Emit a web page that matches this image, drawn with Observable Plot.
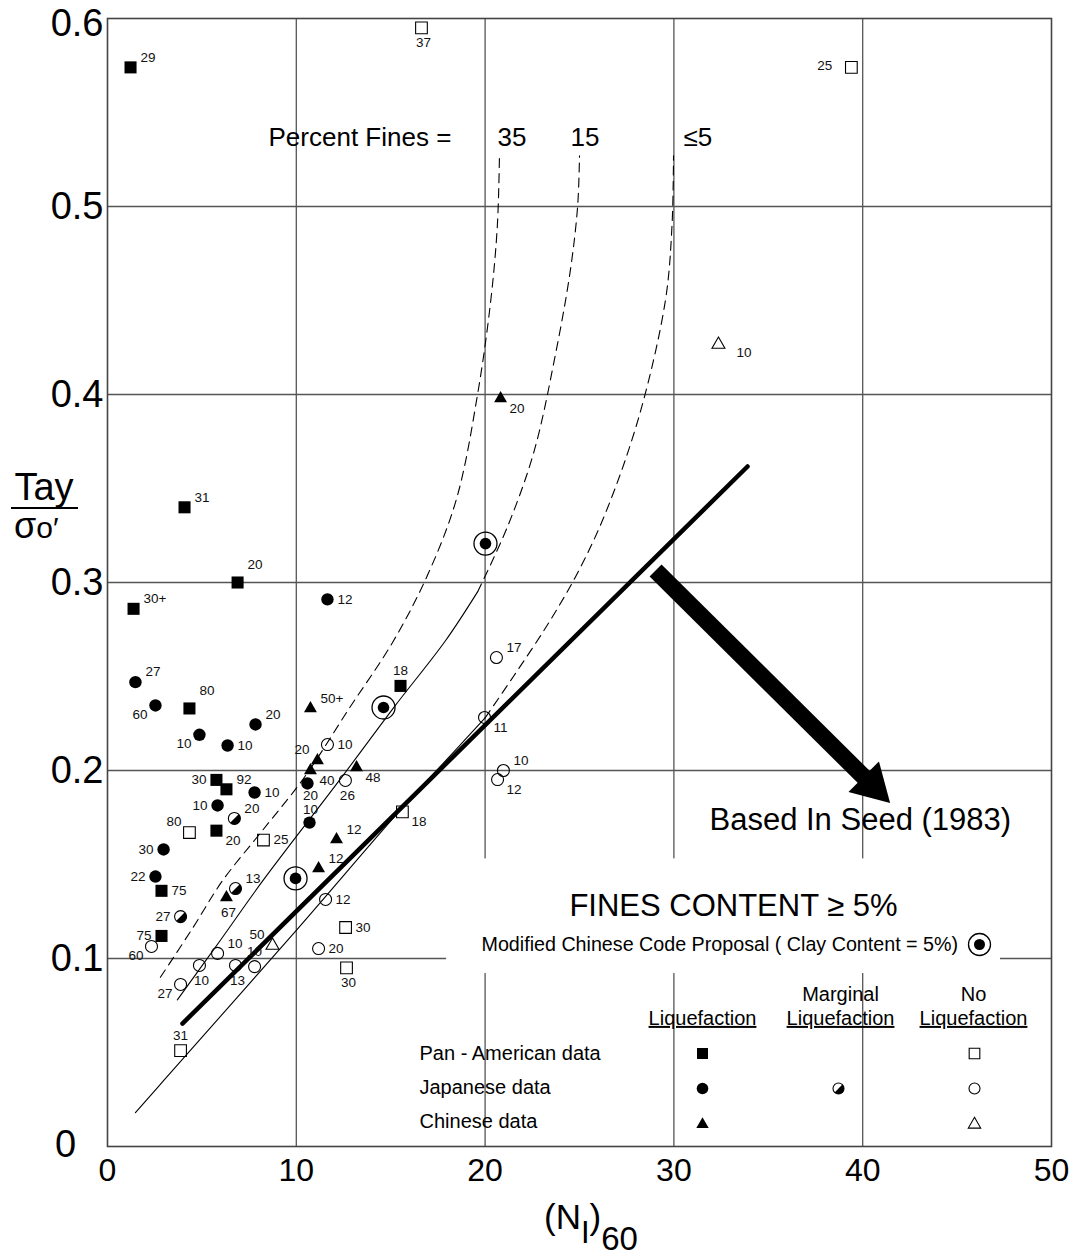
<!DOCTYPE html>
<html><head><meta charset="utf-8">
<script src="https://cdn.jsdelivr.net/npm/d3@7"></script>
<script src="https://cdn.jsdelivr.net/npm/@observablehq/plot@0.6"></script>
<style>body{margin:0;background:#fff}#chart svg{display:block}</style>
</head><body><div id="chart"></div>
<script>
const FONT = '"Liberation Sans", Arial, Helvetica, sans-serif';

// axes
const xTicks = [0, 10, 20, 30, 40, 50];
const yTicks = [0, 0.1, 0.2, 0.3, 0.4, 0.5, 0.6];

// Pan-American data – liquefaction (filled squares)
const panLiqX = [1.22, 4.08, 6.89, 1.38, 4.34, 5.77, 6.30, 5.77, 2.86, 2.86, 15.52];
const panLiqY = [0.574, 0.340, 0.300, 0.286, 0.233, 0.195, 0.190, 0.168, 0.136, 0.112, 0.245];
const panLiqLabel = ["29", "31", "20", "30+", "80", "30", "92", "20", "75", "75", "18"];
const panLiqPlace = ["tr", "tr", "tr2", "tr", "tr2", "l", "tr", "br", "r", "l", "t"];

// Pan-American data – no liquefaction (open squares)
const panNoX = [16.63, 39.4, 4.34, 8.26, 15.62, 12.61, 12.66, 3.87];
const panNoY = [0.595, 0.574, 0.167, 0.163, 0.178, 0.1165, 0.095, 0.051];
const panNoLabel = ["37", "25", "80", "25", "18", "30", "30", "31"];
const panNoPlace = ["b", "l2", "tl", "r", "br", "r", "b", "t"];

// Japanese data – liquefaction (filled circles)
const japLiqX = [1.48, 2.54, 4.87, 6.36, 7.84, 5.83, 7.79, 2.97, 2.54, 11.65, 10.59, 10.70];
const japLiqY = [0.247, 0.2346, 0.219, 0.2133, 0.2245, 0.1814, 0.1883, 0.158, 0.1436, 0.291, 0.1931, 0.1723];
const japLiqLabel = ["27", "60", "10", "10", "20", "10", "10", "30", "22", "12", "20", "10"];
const japLiqPlace = ["tr", "bl", "bl", "r", "tr", "l", "r", "l", "l", "r", "b2", "t2"];

// Japanese data – marginal liquefaction (half-filled circles)
const japMargX = [6.72, 6.78, 3.87];
const japMargY = [0.1745, 0.1372, 0.1223];
const japMargLabel = ["20", "13", "27"];
const japMargPlace = ["tr", "tr", "l"];

// Japanese data – no liquefaction (open circles)
const japNoX = [2.33, 3.87, 4.87, 5.83, 6.78, 7.79, 11.65, 12.6, 11.55, 11.18, 20.6, 19.97, 20.97, 20.66];
const japNoY = [0.1064, 0.0862, 0.0963, 0.1027, 0.0963, 0.0957, 0.2138, 0.1947, 0.1314, 0.1053, 0.2601, 0.2282, 0.200, 0.1952];
const japNoLabel = ["60", "27", "10", "10", "13", "10", "10", "26", "12", "20", "17", "11", "10", "12"];
const japNoPlace = ["bl", "bl", "b", "tr", "b", "t", "r", "b", "r", "r", "tr", "br", "tr", "br"];

// Chinese data – liquefaction (filled triangles)
const chiLiqX = [20.82, 10.75, 11.12, 10.75, 13.19, 12.13, 11.18, 6.30];
const chiLiqY = [0.3979, 0.233, 0.2053, 0.200, 0.2016, 0.1633, 0.1479, 0.1324];
const chiLiqLabel = ["20", "50+", "20", "40", "48", "12", "12", "67"];
const chiLiqPlace = ["br", "tr", "tl", "br", "br", "tr", "tr", "b"];

// Chinese data – no liquefaction (open triangles)
const chiNoX = [32.36, 8.74];
const chiNoY = [0.4266, 0.1069];
const chiNoLabel = ["10", "50"];
const chiNoPlace = ["br2", "tl"];

// Modified Chinese Code Proposal (clay content = 5%)
const modX = [20.02, 14.62, 9.96];
const modY = [0.3207, 0.2335, 0.1426];

// Boundary curves (percent fines)
const c35X = [2.8, 4.5, 6.1, 8.2, 10.4, 12.8, 15.15, 17.0, 18.5, 19.6, 20.3, 20.65, 20.76];
const c35Y = [0.090, 0.116, 0.1415, 0.168, 0.196, 0.233, 0.269, 0.305, 0.345, 0.400, 0.450, 0.490, 0.527];

const c15SolidX = [3.7, 6.0, 8.2, 12.3, 15.2, 17.9, 19.6];
const c15SolidY = [0.078, 0.110, 0.141, 0.195, 0.234, 0.269, 0.295];
const c15DashX = [19.6, 21.2, 22.6, 23.7, 24.5, 24.9, 25.0];
const c15DashY = [0.295, 0.330, 0.370, 0.420, 0.465, 0.500, 0.527];

const c5SolidX = [1.48, 2.97, 10.0, 15.6, 18.54, 20.0];
const c5SolidY = [0.018, 0.035, 0.115, 0.180, 0.212, 0.228];
const c5DashX = [20.0, 21.5, 23.46, 25.05, 26.5, 28.2, 29.55, 29.9, 29.98];
const c5DashY = [0.228, 0.250, 0.280, 0.308, 0.340, 0.390, 0.450, 0.490, 0.527];

// Seed (1983) boundary line
const seedX = [3.97, 33.9];
const seedY = [0.0654, 0.3617];

// arrow pointing to the note
const arrowFromX = 29.03, arrowFromY = 0.3064, arrowToX = 41.42, arrowToY = 0.183;

// texts
const finesTitle = "Percent Fines =";
const finesLabels = ["35", "15", "≤5"];
const seedNote = "Based In Seed (1983)";
const finesContent = "FINES CONTENT ≥ 5%";
const modNote = "Modified Chinese Code Proposal ( Clay Content = 5%)";
const legendRows = ["Pan - American data", "Japanese data", "Chinese data"];
const legendHead1 = ["", "Marginal", "No"];
const legendHead2 = ["Liquefaction", "Liquefaction", "Liquefaction"];

// ---------------------------------------------------------------
const zip = (X, Y) => X.map((x, i) => ({x, y: Y[i]}));
const series = [
  {type: "panLiq", X: panLiqX, Y: panLiqY, L: panLiqLabel, P: panLiqPlace},
  {type: "panNo", X: panNoX, Y: panNoY, L: panNoLabel, P: panNoPlace},
  {type: "japLiq", X: japLiqX, Y: japLiqY, L: japLiqLabel, P: japLiqPlace},
  {type: "japMarg", X: japMargX, Y: japMargY, L: japMargLabel, P: japMargPlace},
  {type: "japNo", X: japNoX, Y: japNoY, L: japNoLabel, P: japNoPlace},
  {type: "chiLiq", X: chiLiqX, Y: chiLiqY, L: chiLiqLabel, P: chiLiqPlace},
  {type: "chiNo", X: chiNoX, Y: chiNoY, L: chiNoLabel, P: chiNoPlace},
  {type: "mod", X: modX, Y: modY, L: modX.map(() => ""), P: modX.map(() => "")}
];
const points = series.flatMap(s => s.X.map((x, i) => ({type: s.type, x, y: s.Y[i], label: s.L[i], place: s.P[i]})));
const sel = t => points.filter(d => d.type === t);

const PLACE = {
  r: {a: "start", dx: 10, dy: 0}, l: {a: "end", dx: -10, dy: 0}, l2: {a: "end", dx: -19, dy: -2},
  t: {a: "middle", dx: 0, dy: -15}, t2: {a: "middle", dx: 1, dy: -13},
  b: {a: "middle", dx: 2, dy: 15}, b2: {a: "middle", dx: 3, dy: 12},
  tr: {a: "start", dx: 10, dy: -10}, tr2: {a: "start", dx: 10, dy: -18},
  br: {a: "start", dx: 9, dy: 10}, br2: {a: "start", dx: 18, dy: 8},
  tl: {a: "end", dx: -8, dy: -11}, bl: {a: "end", dx: -8, dy: 9}
};

const halfDisk = {
  draw(ctx, size) {
    const r = Math.sqrt(size / Math.PI);
    ctx.moveTo(r * Math.cos(-Math.PI / 4), r * Math.sin(-Math.PI / 4));
    ctx.arc(0, 0, r, -Math.PI / 4, 3 * Math.PI / 4);
    ctx.closePath();
  }
};

// layout helper: frame-relative text / symbol
const note = (str, dx, dy, fontSize, textAnchor = "start") =>
  Plot.text([str], {frameAnchor: "top-left", text: d => d, dx, dy, fontSize, textAnchor, lineAnchor: "middle", fill: "black"});
const sym = (dx, dy, o) => Plot.dot([0], {frameAnchor: "top-left", dx, dy, ...o});

const symStyles = {
  panLiq: {symbol: "square", r: 6.8, fill: "black", stroke: "none"},
  panNo: {symbol: "square", r: 6.6, fill: "none", stroke: "black", strokeWidth: 1.1},
  japLiq: {symbol: "circle", r: 6.2, fill: "black", stroke: "none"},
  japNo: {symbol: "circle", r: 6, fill: "none", stroke: "black", strokeWidth: 1.1},
  chiLiq: {symbol: "triangle", r: 4.8, fill: "black", stroke: "none"},
  chiNo: {symbol: "triangle", r: 4.8, fill: "none", stroke: "black", strokeWidth: 1.1}
};

const thin = {stroke: "black", strokeWidth: 1.1, curve: "catmull-rom"};
const dash = {...thin, strokeDasharray: "9,6"};
const topTick = yTicks[yTicks.length - 1];

const chart = Plot.plot({
  width: 1080, height: 1259,
  marginLeft: 107, marginRight: 29, marginTop: 18, marginBottom: 113,
  x: {domain: [0, 50]},
  y: {domain: [0, 0.6]},
  style: {fontFamily: FONT, background: "white", color: "black", overflow: "visible"},
  marks: [
    Plot.ruleX(xTicks.slice(1, -1), {stroke: "#555", strokeWidth: 1.3}),
    Plot.ruleY(yTicks.slice(1, -1), {stroke: "#555", strokeWidth: 1.3}),
    Plot.rect([{x1: 17.96, x2: 47.3, y1: 0.092, y2: 0.153}], {x1: "x1", x2: "x2", y1: "y1", y2: "y2", fill: "white"}),
    Plot.frame({stroke: "#444", strokeWidth: 1.6}),
    Plot.axisX(xTicks, {tickSize: 0, tickPadding: 12, fontSize: 32, label: null}),
    Plot.axisY(yTicks.slice(1, -1), {tickSize: 0, tickPadding: 4, fontSize: 38, label: null, tickFormat: d => d.toFixed(1)}),
    Plot.axisY([topTick], {tickSize: 0, tickPadding: 4, fontSize: 38, label: null, dy: 5, tickFormat: d => d.toFixed(1)}),
    Plot.text(["0"], {frameAnchor: "bottom-left", text: d => d, dx: -42, dy: -2, fontSize: 38, textAnchor: "middle", lineAnchor: "middle"}),

    // curves
    Plot.line(zip(c35X, c35Y), {x: "x", y: "y", ...dash}),
    Plot.line(zip(c15DashX, c15DashY), {x: "x", y: "y", ...dash}),
    Plot.line(zip(c15SolidX, c15SolidY), {x: "x", y: "y", ...thin}),
    Plot.line(zip(c5DashX, c5DashY), {x: "x", y: "y", ...dash}),
    Plot.line(zip(c5SolidX, c5SolidY), {x: "x", y: "y", ...thin}),
    Plot.line(zip(seedX, seedY), {x: "x", y: "y", stroke: "black", strokeWidth: 4.5}),

    // arrow
    Plot.arrow([{x1: arrowFromX, y1: arrowFromY, x2: arrowToX, y2: arrowToY}],
      {x1: "x1", y1: "y1", x2: "x2", y2: "y2", stroke: "black", strokeWidth: 17, headLength: 0, insetEnd: 24, strokeLinecap: "butt"}),
    Plot.dot([{x: arrowToX, y: arrowToY}], {x: "x", y: "y", symbol: "triangle", r: 16, rotate: 135, dx: -17, dy: -17, fill: "black", stroke: "none"}),

    // data points
    ...["panLiq", "panNo", "japLiq", "japNo", "chiLiq", "chiNo"].map(t => Plot.dot(sel(t), {x: "x", y: "y", ...symStyles[t]})),
    Plot.dot(sel("japMarg"), {x: "x", y: "y", r: 6, fill: "white", stroke: "black", strokeWidth: 1.1}),
    Plot.dot(sel("japMarg"), {x: "x", y: "y", r: 6, symbol: halfDisk, fill: "black", stroke: "none"}),
    Plot.dot(sel("mod"), {x: "x", y: "y", r: 11.5, fill: "none", stroke: "black", strokeWidth: 1.3}),
    Plot.dot(sel("mod"), {x: "x", y: "y", r: 5.8, fill: "black", stroke: "none"}),

    // point labels
    ...Object.entries(PLACE).map(([k, p]) => Plot.text(points.filter(d => d.place === k && d.label),
      {x: "x", y: "y", text: "label", dx: p.dx, dy: p.dy, textAnchor: p.a, fontSize: 13.5, fill: "#111"})),

    // annotations
    note(finesTitle, 161, 119, 26),
    note(finesLabels[0], 390, 119, 26),
    note(finesLabels[1], 463, 119, 26),
    note(finesLabels[2], 576, 119, 26),
    note(seedNote, 602, 802, 31),
    note(finesContent, 626, 888, 31, "middle"),
    note(modNote, 374, 926, 19.7),
    sym(872, 926, {r: 11, fill: "none", stroke: "black", strokeWidth: 1.3}),
    sym(872, 926, {r: 5.5, fill: "black", stroke: "none"}),

    // legend
    note(legendHead2[0], 595, 1000, 20, "middle"),
    note(legendHead1[1], 733, 976, 20, "middle"),
    note(legendHead2[1], 733, 1000, 20, "middle"),
    note(legendHead1[2], 866, 976, 20, "middle"),
    note(legendHead2[2], 866, 1000, 20, "middle"),
    note(legendRows[0], 312, 1035, 20),
    note(legendRows[1], 312, 1069, 20),
    note(legendRows[2], 312, 1103, 20),
    sym(595, 1035, {...symStyles.panLiq, r: 6.2}),
    sym(867, 1035, {...symStyles.panNo, r: 6}),
    sym(595, 1070, {...symStyles.japLiq, r: 5.8}),
    sym(731, 1070, {r: 5.5, fill: "white", stroke: "black", strokeWidth: 1.1}),
    sym(731, 1070, {r: 5.5, symbol: halfDisk, fill: "black", stroke: "none"}),
    sym(867, 1070, {...symStyles.japNo, r: 5.5}),
    sym(595, 1106, {...symStyles.chiLiq, r: 4.6}),
    sym(867, 1106, {...symStyles.chiNo, r: 4.6})
  ]
});

document.getElementById("chart").appendChild(chart);

// underline the legend column headings
d3.select(chart).selectAll("text").filter(function () { return this.textContent === "Liquefaction"; })
  .attr("text-decoration", "underline");

// axis titles with sub-scripts
const svg = d3.select(chart);
const xl = svg.append("text").attr("x", 544).attr("y", 1229).attr("text-anchor", "start")
  .attr("font-family", FONT).attr("fill", "black");
xl.append("tspan").attr("font-size", 35).text("(N");
xl.append("tspan").attr("font-size", 31).attr("dy", 14).text("I");
xl.append("tspan").attr("font-size", 35).attr("dy", -14).text(")");
xl.append("tspan").attr("font-size", 33).attr("dy", 21).text("60");

svg.append("text").attr("x", 44).attr("y", 500).attr("text-anchor", "middle").attr("font-family", FONT)
  .attr("font-size", 38).attr("fill", "black").text("Tay");
svg.append("line").attr("x1", 11).attr("x2", 78).attr("y1", 508).attr("y2", 508).attr("stroke", "black").attr("stroke-width", 1.8);
const yl = svg.append("text").attr("x", 14).attr("y", 538).attr("text-anchor", "start")
  .attr("font-family", FONT).attr("fill", "black");
yl.append("tspan").attr("font-size", 36).text("σ");
yl.append("tspan").attr("font-size", 30).text("o");
yl.append("tspan").attr("font-size", 30).text("′");
</script>
</body></html>
